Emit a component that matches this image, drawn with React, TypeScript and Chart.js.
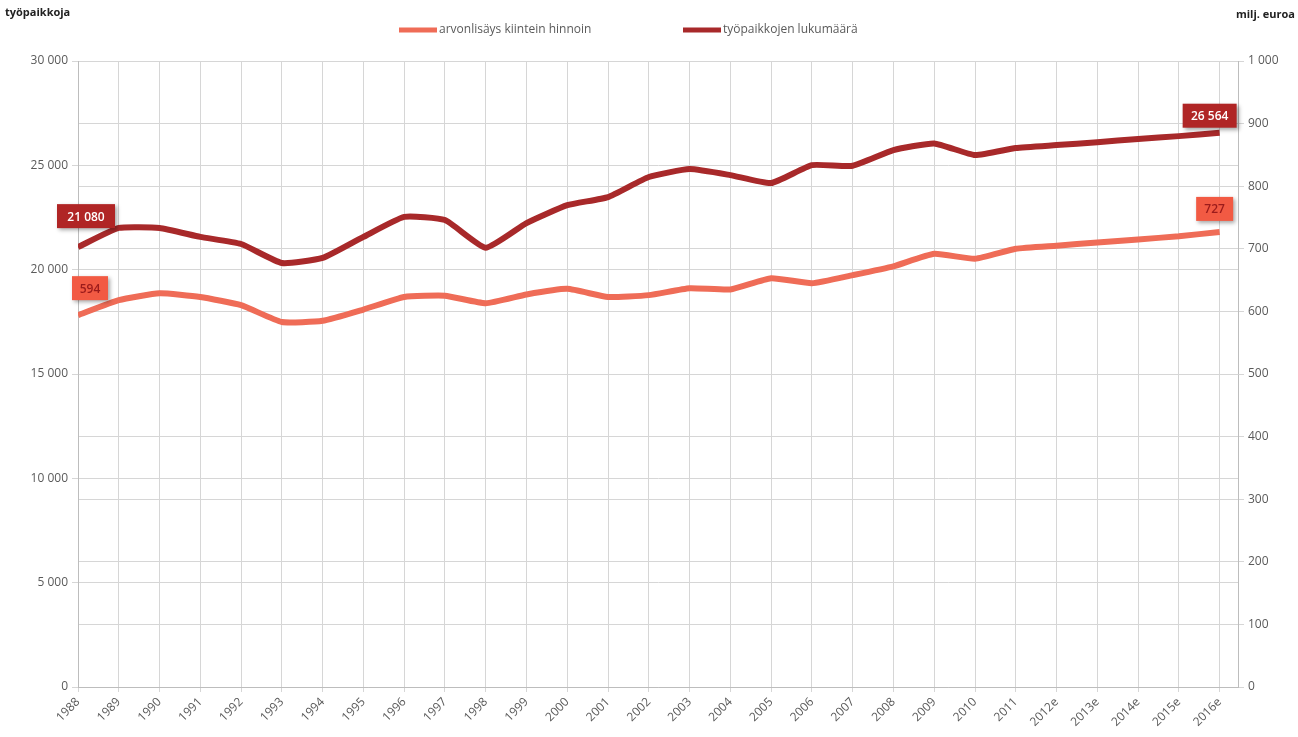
import React, { useEffect, useRef } from "react";
import { Chart, registerables } from "chart.js";

Chart.register(...registerables);

const categories = [
  "1988", "1989", "1990", "1991", "1992", "1993", "1994", "1995", "1996", "1997",
  "1998", "1999", "2000", "2001", "2002", "2003", "2004", "2005", "2006", "2007",
  "2008", "2009", "2010", "2011", "2012e", "2013e", "2014e", "2015e", "2016e",
];

// työpaikkojen lukumäärä (left axis)
const employment = [
  21080, 22000, 22000, 21570, 21230, 20320, 20560, 21570, 22530, 22380,
  21050, 22230, 23090, 23480, 24440, 24820, 24530, 24150, 25010, 24980,
  25730, 26050, 25490, 25830, 25970, 26110, 26260, 26400, 26564,
];

// arvonlisäys kiintein hinnoin, milj. euroa (right axis)
const valueAdded = [
  594, 618, 629, 623, 610, 583, 585, 603, 623, 625,
  613, 627, 636, 623, 626, 637, 635, 653, 645, 658,
  672, 692, 684, 700, 705, 710, 715, 720, 727,
];

const seriesNames = ["arvonlisäys kiintein hinnoin", "työpaikkojen lukumäärä"];
const leftTitle = "työpaikkoja";
const rightTitle = "milj. euroa";

const LIGHT = "#ef6c57";
const DARK = "#a8292a";
const TEXT = "#5a5a5a";
const FONT = "'Open Sans', 'Liberation Sans', sans-serif";

const fmt = (n: number) => String(Math.round(n)).replace(/\B(?=(\d{3})+(?!\d))/g, " ");

const decorPlugin = {
  id: "decor",
  afterDraw(chart: any) {
    const ctx = chart.ctx;
    ctx.save();
    // axis titles
    ctx.fillStyle = "#222";
    ctx.font = `bold 11px ${FONT}`;
    ctx.textBaseline = "middle";
    ctx.textAlign = "left";
    ctx.fillText(leftTitle, 5, 13);
    ctx.textAlign = "right";
    ctx.fillText(rightTitle, 1295, 15);

    // legend
    const items = [
      { x: 399, color: LIGHT, text: seriesNames[0] },
      { x: 683, color: DARK, text: seriesNames[1] },
    ];
    ctx.font = `12px ${FONT}`;
    ctx.textAlign = "left";
    items.forEach((it) => {
      ctx.strokeStyle = it.color;
      ctx.lineWidth = 5;
      ctx.beginPath();
      ctx.moveTo(it.x, 30);
      ctx.lineTo(it.x + 38, 30);
      ctx.stroke();
      ctx.fillStyle = TEXT;
      ctx.fillText(it.text, it.x + 40, 30);
    });

    // data labels on first and last points
    const labels = [
      { ds: 1, idx: 0, dx: 8, dy: -19, bg: "#b02525", fg: "#ffffff", w: 58 },
      { ds: 0, idx: 0, dx: 12, dy: -15, bg: "#f25a43", fg: "#9b1b1b", w: 36 },
      { ds: 1, idx: categories.length - 1, dx: -10, dy: -5, bg: "#b02525", fg: "#ffffff", w: 54 },
      { ds: 0, idx: categories.length - 1, dx: -5, dy: -11, bg: "#f25a43", fg: "#9b1b1b", w: 37 },
    ];
    ctx.font = `600 12px ${FONT}`;
    labels.forEach((l) => {
      const pt = chart.getDatasetMeta(l.ds).data[l.idx];
      const value = chart.data.datasets[l.ds].data[l.idx].y;
      const h = 24;
      const cx = pt.x + l.dx;
      const bottom = pt.y + l.dy;
      ctx.save();
      ctx.shadowColor = "rgba(0,0,0,0.35)";
      ctx.shadowBlur = 4;
      ctx.shadowOffsetX = 2;
      ctx.shadowOffsetY = 2;
      ctx.fillStyle = l.bg;
      ctx.fillRect(cx - l.w / 2, bottom - h, l.w, h);
      ctx.restore();
      ctx.fillStyle = l.fg;
      ctx.textAlign = "center";
      ctx.textBaseline = "middle";
      ctx.fillText(fmt(value), cx, bottom - h / 2 + 1);
    });
    ctx.restore();
  },
};

export default function App() {
  const ref = useRef<HTMLCanvasElement | null>(null);

  useEffect(() => {
    if (!ref.current) return;
    const chart = new Chart(ref.current, {
      type: "line",
      data: {
        datasets: [
          {
            label: seriesNames[0],
            data: valueAdded.map((v, i) => ({ x: i, y: v })),
            borderColor: LIGHT,
            backgroundColor: LIGHT,
            borderWidth: 6,
            pointRadius: 0,
            tension: 0.15,
            yAxisID: "y1",
            order: 2,
          },
          {
            label: seriesNames[1],
            data: employment.map((v, i) => ({ x: i, y: v })),
            borderColor: DARK,
            backgroundColor: DARK,
            borderWidth: 6,
            pointRadius: 0,
            tension: 0.15,
            yAxisID: "y",
            order: 1,
          },
        ],
      },
      options: {
        responsive: false,
        animation: false,
        layout: { padding: { top: 61, left: 0, right: 0, bottom: 0 } },
        plugins: {
          legend: { display: false },
          tooltip: { enabled: false },
        },
        scales: {
          x: {
            type: "linear",
            min: 0,
            max: categories.length - 1 + 0.45,
            afterFit: (s: any) => {
              s.height = 50;
            },
            grid: { color: "#d6d6d6", lineWidth: 1, tickLength: 5, drawTicks: true },
            border: { color: "#bdbdbd" },
            ticks: {
              stepSize: 1,
              includeBounds: false,
              autoSkip: false,
              minRotation: 45,
              maxRotation: 45,
              color: TEXT,
              font: { family: FONT, size: 12 },
              padding: 3,
              callback: (v: any) => (Number.isInteger(v) ? categories[v] : ""),
            },
          },
          y: {
            position: "left",
            min: 0,
            max: 30000,
            afterFit: (s: any) => {
              s.width = 78;
            },
            grid: { color: "#d6d6d6", tickLength: 6 },
            border: { color: "#bdbdbd" },
            ticks: {
              stepSize: 5000,
              color: TEXT,
              font: { family: FONT, size: 12 },
              padding: 4,
              callback: (v: any) => fmt(v),
            },
          },
          y1: {
            position: "right",
            min: 0,
            max: 1000,
            afterFit: (s: any) => {
              s.width = 60;
            },
            grid: { color: "#d6d6d6", tickLength: 6 },
            border: { color: "#bdbdbd" },
            ticks: {
              stepSize: 100,
              color: TEXT,
              font: { family: FONT, size: 12 },
              padding: 4,
              callback: (v: any) => fmt(v),
            },
          },
        },
      },
      plugins: [decorPlugin],
    } as any);
    return () => chart.destroy();
  }, []);

  return (
    <div style={{ position: "absolute", left: 0, top: 0, width: 1298, height: 737, background: "#fff" }}>
      <canvas ref={ref} width={1298} height={737} />
    </div>
  );
}
